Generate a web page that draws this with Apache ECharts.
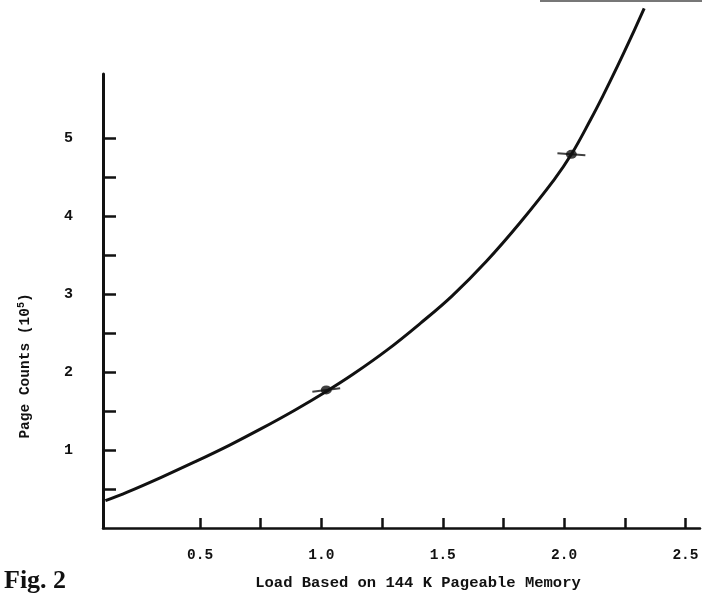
<!DOCTYPE html>
<html>
<head>
<meta charset="utf-8">
<title>Fig. 2</title>
<script src="https://cdn.jsdelivr.net/npm/echarts@6/dist/echarts.min.js"></script>
<style>
  html, body { margin: 0; padding: 0; background: #fff; }
  #chart { width: 702px; height: 599px; }
</style>
</head>
<body>
<div id="chart"></div>
<script>
// curve: load vs page counts (10^5)
const loadValues = [0.11, 0.20, 0.34, 0.48, 0.62, 0.75, 0.89, 1.02, 1.13, 1.27, 1.41, 1.54, 1.68, 1.82, 1.96, 2.03, 2.11, 2.16, 2.22, 2.27, 2.33]
const pageCounts = [0.35, 0.46, 0.65, 0.85, 1.06, 1.27, 1.51, 1.75, 1.97, 2.28, 2.63, 2.98, 3.42, 3.92, 4.47, 4.79, 5.24, 5.54, 5.92, 6.25, 6.66]

// the two measured points
const pointLoads = [1.02, 2.03]
const pointCounts = [1.77, 4.79]
const pointDashRotate = [7, -4]

const xTicks = [0.5, 0.75, 1.0, 1.25, 1.5, 1.75, 2.0, 2.25, 2.5]
const xLabels = [0.5, 1.0, 1.5, 2.0, 2.5]
const yTicks = [0.5, 1, 1.5, 2, 2.5, 3, 3.5, 4, 4.5, 5]
const yLabels = [1, 2, 3, 4, 5]

const ink = '#111'
const mono = '"Liberation Mono", "DejaVu Sans Mono", monospace'

const curve = loadValues.map((x, i) => [x, pageCounts[i]])
const dots = pointLoads.map((x, i) => [x, pointCounts[i]])
const dashes = pointLoads.map((x, i) => ({ value: [x, pointCounts[i]], symbolRotate: pointDashRotate[i] }))

const chart = echarts.init(document.getElementById('chart'), null, { renderer: 'canvas' })

chart.setOption({
  backgroundColor: '#fff',
  animation: false,
  grid: { left: 103, right: 2, top: 74, bottom: 71 },
  xAxis: {
    type: 'value',
    min: 0.1,
    max: 2.56,
    splitLine: { show: false },
    axisLine: { lineStyle: { color: ink, width: 2.5 } },
    axisTick: { inside: true, length: 10, customValues: xTicks, lineStyle: { color: ink, width: 2.5 } },
    axisLabel: {
      customValues: xLabels,
      margin: 20,
      color: ink,
      fontFamily: mono,
      fontWeight: 'bold',
      fontSize: 14.5,
      formatter: v => v.toFixed(1)
    }
  },
  yAxis: {
    type: 'value',
    min: 0,
    max: 5.82,
    splitLine: { show: false },
    axisLine: { lineStyle: { color: ink, width: 3 } },
    axisTick: { inside: true, length: 13, customValues: yTicks, lineStyle: { color: ink, width: 2.5 } },
    axisLabel: {
      customValues: yLabels,
      margin: 30,
      color: ink,
      fontFamily: mono,
      fontWeight: 'bold',
      fontSize: 15
    }
  },
  series: [
    {
      type: 'line',
      data: curve,
      smooth: 0.4,
      clip: false,
      showSymbol: false,
      lineStyle: { color: ink, width: 3 }
    },
    {
      type: 'scatter',
      data: dashes,
      symbol: 'rect',
      symbolSize: [28, 2],
      itemStyle: { color: ink }
    },
    {
      type: 'scatter',
      data: dots,
      symbol: 'circle',
      symbolSize: [11, 9],
      itemStyle: { color: ink }
    }
  ],
  graphic: [
    {
      type: 'text',
      left: 4,
      top: 568,
      style: { text: 'Fig. 2', font: 'bold 26px "Liberation Serif", serif', fill: ink }
    },
    {
      type: 'text',
      x: 418,
      y: 583,
      style: {
        text: 'Load Based on 144 K Pageable Memory',
        font: 'bold 15.5px ' + mono,
        fill: ink,
        align: 'center',
        verticalAlign: 'middle'
      }
    },
    {
      type: 'text',
      x: 25,
      y: 366,
      rotation: Math.PI / 2,
      style: {
        text: '{a|Page Counts (10}{s|5}{a|)}',
        align: 'center',
        verticalAlign: 'middle',
        rich: {
          a: { font: 'bold 14.5px ' + mono, fill: ink },
          s: { font: 'bold 10px ' + mono, fill: ink, padding: [0, 0, 8, 0] }
        }
      }
    },
    {
      type: 'line',
      shape: { x1: 540, y1: 1, x2: 702, y2: 1 },
      style: { stroke: '#777', lineWidth: 2 }
    }
  ]
})
</script>
</body>
</html>
